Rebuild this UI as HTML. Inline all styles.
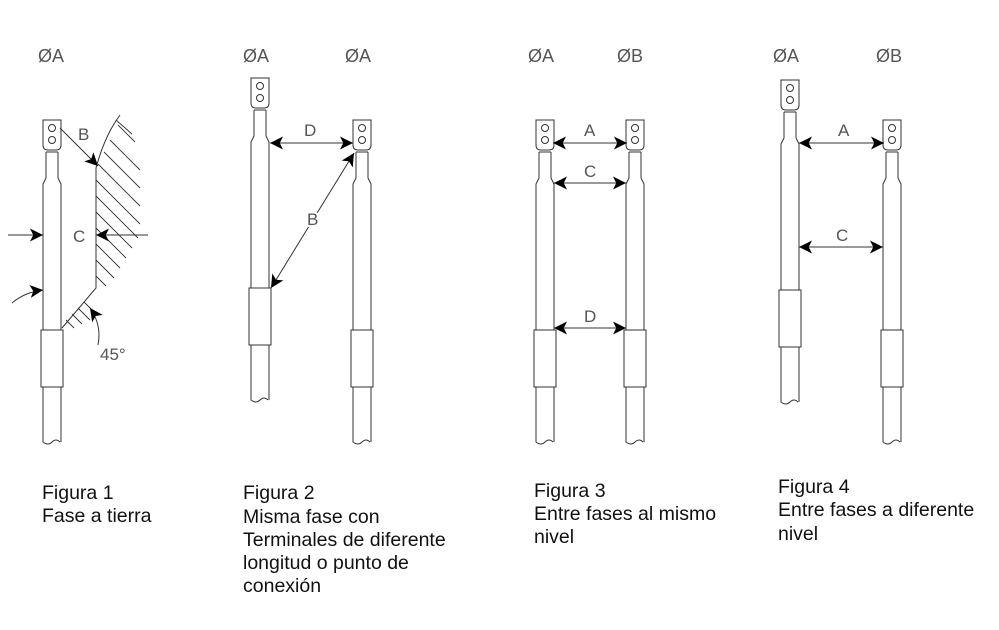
<!DOCTYPE html>
<html><head><meta charset="utf-8"><style>
body{margin:0;background:#fff}
svg{display:block}
.t{font-family:"Liberation Sans",sans-serif;font-size:19.5px;fill:#111}
.l{font-family:"Liberation Sans",sans-serif;font-size:18px;fill:#555}
.d{font-family:"Liberation Sans",sans-serif;font-size:17px;fill:#555}
</style></head><body>
<svg width="999" height="630" viewBox="0 0 999 630" xmlns="http://www.w3.org/2000/svg">
<defs>
<g id="term" fill="none" stroke="#333" stroke-width="1">
<path d="M-9,0 H9 V25 Q9,30 4,30 H-4 Q-9,30 -9,25 Z"/>
<circle cx="0" cy="8" r="3.5"/><circle cx="0" cy="20" r="3.5"/>
<path d="M-6,32 V58 L-9,64 V210 M6,32 V58 L9,64 V210"/>
<line x1="-6" y1="32" x2="6" y2="32"/>
<rect x="-11" y="210" width="22" height="57"/>
<path d="M-9,267 V322 Q-4,326 0,322 Q4,318 8,322 M9,267 V322"/>
</g>
<marker id="a" viewBox="0 0 10 10" refX="10" refY="5" markerWidth="17" markerHeight="13" markerUnits="userSpaceOnUse" orient="auto"><path d="M0,0 L10,5 L0,10 L2.5,5 Z" fill="#000"/></marker>
<marker id="s" viewBox="0 0 10 10" refX="0" refY="5" markerWidth="17" markerHeight="13" markerUnits="userSpaceOnUse" orient="auto"><path d="M10,0 L0,5 L10,10 L7.5,5 Z" fill="#000"/></marker>
</defs>
<text class="l" x="38" y="62">ØA</text>
<text class="l" x="243" y="62">ØA</text><text class="l" x="345" y="62">ØA</text>
<text class="l" x="528" y="62">ØA</text><text class="l" x="617" y="62">ØB</text>
<text class="l" x="773" y="62">ØA</text><text class="l" x="876" y="62">ØB</text>

<!-- Fig1 -->
<use href="#term" x="52" y="120"/>
<g stroke="#333" fill="none" stroke-width="1">
<path d="M120,115 Q105,135 96,168 V288 L62,328"/>
<g stroke-width="0.9">
<path d="M118,125 L135,142 M110,140 L140,170 M104,152 L140,188 M98,164 L140,206 M96,180 L140,224 M96,196 L138,238 M96,212 L132,248 M96,228 L126,258 M96,244 L120,268 M96,260 L114,278 M96,276 L106,286 M84,302 L96,314 M78,308 L90,320 M72,314 L82,324 M66,320 L74,328 M116,120 L132,134"/>
</g>
<line x1="60" y1="128" x2="98" y2="166" marker-end="url(#a)"/>
<line x1="8" y1="235" x2="43" y2="235" marker-end="url(#a)"/>
<line x1="148" y1="235" x2="96" y2="235" marker-end="url(#a)"/>
<path d="M12,303 Q25,292 43,290" marker-end="url(#a)"/>
<path d="M98,345 Q102,325 90,308" marker-end="url(#a)"/>
</g>
<text class="d" x="73" y="242">C</text>
<text class="d" x="78" y="140">B</text>
<text class="d" x="100" y="360">45°</text>

<!-- Fig2 -->
<use href="#term" x="260" y="78"/>
<use href="#term" x="362" y="120"/>
<g stroke="#333" stroke-width="1">
<line x1="270" y1="143" x2="353" y2="143" marker-start="url(#s)" marker-end="url(#a)"/>
<line x1="271" y1="288" x2="354" y2="153" marker-start="url(#s)" marker-end="url(#a)"/>
</g>
<text class="d" x="304" y="136">D</text>
<text class="d" x="307" y="225" style="paint-order:stroke" stroke="#fff" stroke-width="4">B</text>

<!-- Fig3 -->
<use href="#term" x="545" y="120"/>
<use href="#term" x="635" y="120"/>
<g stroke="#333" stroke-width="1">
<line x1="553" y1="143" x2="627" y2="143" marker-start="url(#s)" marker-end="url(#a)"/>
<line x1="554" y1="183" x2="626" y2="183" marker-start="url(#s)" marker-end="url(#a)"/>
<line x1="554" y1="328" x2="626" y2="328" marker-start="url(#s)" marker-end="url(#a)"/>
</g>
<text class="d" x="584" y="136">A</text>
<text class="d" x="584" y="177">C</text>
<text class="d" x="584" y="322">D</text>

<!-- Fig4 -->
<use href="#term" x="790" y="80"/>
<use href="#term" x="892" y="120"/>
<g stroke="#333" stroke-width="1">
<line x1="799" y1="143" x2="884" y2="143" marker-start="url(#s)" marker-end="url(#a)"/>
<line x1="799" y1="247" x2="883" y2="247" marker-start="url(#s)" marker-end="url(#a)"/>
</g>
<text class="d" x="838" y="136">A</text>
<text class="d" x="836" y="241">C</text>

<text class="t" x="42" y="499">Figura 1</text>
<text class="t" x="42" y="522">Fase a tierra</text>
<text class="t" x="243" y="499">Figura 2</text>
<text class="t" x="243" y="523">Misma fase con</text>
<text class="t" x="243" y="546">Terminales de diferente</text>
<text class="t" x="243" y="569">longitud o punto de</text>
<text class="t" x="243" y="592">conexión</text>
<text class="t" x="534" y="497">Figura 3</text>
<text class="t" x="534" y="520">Entre fases al mismo</text>
<text class="t" x="534" y="543">nivel</text>
<text class="t" x="778" y="493">Figura 4</text>
<text class="t" x="778" y="516">Entre fases a diferente</text>
<text class="t" x="778" y="540">nivel</text>
</svg>
</body></html>
